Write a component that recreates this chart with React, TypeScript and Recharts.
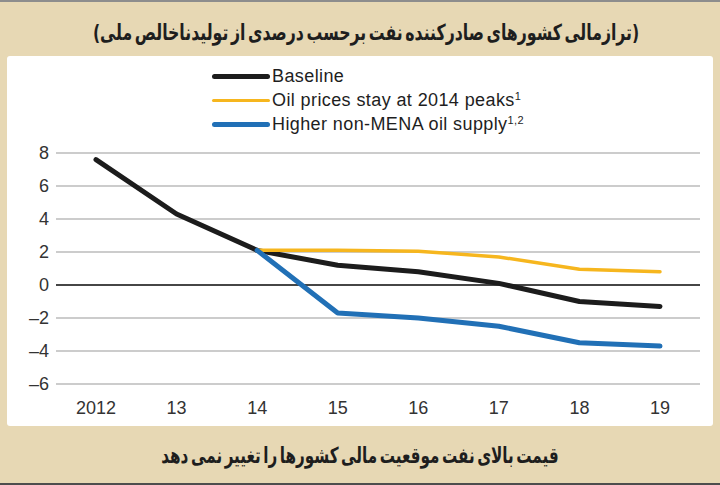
import {
  CartesianGrid,
  Legend,
  Line,
  LineChart,
  ReferenceLine,
  XAxis,
  YAxis,
} from "recharts";

const years = ["2012", "13", "14", "15", "16", "17", "18", "19"];
const baseline = [7.6, 4.3, 2.1, 1.2, 0.8, 0.1, -1.0, -1.3];
const oilPeaks = [null, null, 2.1, 2.1, 2.05, 1.7, 0.95, 0.8];
const nonMena = [null, null, 2.1, -1.7, -2.0, -2.5, -3.5, -3.7];
const yTicks = [-6, -4, -2, 0, 2, 4, 6, 8];

const title = "(ترازمالی کشورهای صادرکننده نفت برحسب درصدی از تولیدناخالص ملی)";
const caption = "قیمت بالای نفت موقعیت مالی کشورها را تغییر نمی دهد";

const legendItems = [
  { label: "Baseline", sup: "", color: "#1c1c1c", width: 5 },
  { label: "Oil prices stay at 2014 peaks", sup: "1", color: "#f6b61e", width: 3 },
  { label: "Higher non-MENA oil supply", sup: "1,2", color: "#2170b6", width: 5 },
];

const data = years.map((year, i) => ({
  year,
  baseline: baseline[i],
  oilPeaks: oilPeaks[i],
  nonMena: nonMena[i],
}));

const tan = "#e7d8b4";
const latin = "'Liberation Sans', Arial, sans-serif";
const persian = "'DejaVu Sans', sans-serif";

function ChartLegend() {
  return (
    <div style={{ fontFamily: latin, fontSize: 18, color: "#1e1e1e", letterSpacing: 0.4 }}>
      {legendItems.map((item) => (
        <div key={item.label} style={{ display: "flex", alignItems: "center", height: 24 }}>
          <span
            style={{
              display: "inline-block",
              width: 58,
              height: item.width,
              borderRadius: item.width,
              background: item.color,
              marginRight: 2,
            }}
          />
          <span>
            {item.label}
            {item.sup && <sup style={{ fontSize: 11, verticalAlign: 6 }}>{item.sup}</sup>}
          </span>
        </div>
      ))}
    </div>
  );
}

function PersianLine({
  text,
  top,
  scale,
  shift = 0,
}: {
  text: string;
  top: number;
  scale: number;
  shift?: number;
}) {
  return (
    <div style={{ position: "absolute", left: shift, width: 720, top, textAlign: "center" }}>
      <span
        style={{
          display: "inline-block",
          direction: "rtl",
          fontFamily: persian,
          fontWeight: "bold",
          fontSize: 22,
          wordSpacing: -4,
          color: "#1e1e1e",
          whiteSpace: "nowrap",
          transform: `scaleX(${scale})`,
          transformOrigin: "center",
        }}
      >
        {text}
      </span>
    </div>
  );
}

export default function App() {
  return (
    <div
      style={{
        position: "absolute",
        left: 0,
        top: 0,
        width: 720,
        height: 485,
        background: tan,
        borderTop: "2px solid #8d8d8d",
        borderBottom: "2px solid #4d4d4d",
        boxSizing: "border-box",
        overflow: "hidden",
      }}
    >
      <PersianLine text={title} top={18} scale={0.715} shift={-16} />
      <div
        style={{
          position: "absolute",
          left: 7,
          top: 54,
          width: 706,
          height: 370,
          background: "#fff",
          borderRadius: 3,
        }}
      >
        <LineChart
          width={706}
          height={370}
          data={data}
          margin={{ top: 97, right: 13, bottom: 12, left: 0 }}
        >
          <CartesianGrid vertical={false} stroke="#9a9a9a" strokeWidth={1.2} />
          <XAxis
            dataKey="year"
            axisLine={false}
            tickLine={false}
            tickSize={0}
            tickMargin={17}
            height={30}
            interval={0}
            padding={{ left: 40, right: 40 }}
            tick={{ fontFamily: latin, fontSize: 18, fill: "#333" }}
          />
          <YAxis
            domain={[-6, 8]}
            ticks={yTicks}
            axisLine={false}
            tickLine={false}
            tickSize={0}
            tickMargin={7}
            width={49}
            tickFormatter={(v: number) => (v < 0 ? `–${Math.abs(v)}` : `${v}`)}
            tick={{ fontFamily: latin, fontSize: 18, fill: "#333" }}
          />
          <ReferenceLine y={0} stroke="#1a1a1a" strokeWidth={1.3} />
          <Legend
            layout="vertical"
            align="center"
            verticalAlign="middle"
            content={() => <ChartLegend />}
            wrapperStyle={{ left: 205, top: 8, width: 400 }}
          />
          <Line
            dataKey="baseline"
            stroke="#1c1c1c"
            strokeWidth={5}
            strokeLinecap="round"
            strokeLinejoin="round"
            dot={false}
            isAnimationActive={false}
          />
          <Line
            dataKey="oilPeaks"
            stroke="#f6b61e"
            strokeWidth={3.5}
            strokeLinecap="round"
            strokeLinejoin="round"
            dot={false}
            isAnimationActive={false}
          />
          <Line
            dataKey="nonMena"
            stroke="#2170b6"
            strokeWidth={5}
            strokeLinecap="round"
            strokeLinejoin="round"
            dot={false}
            isAnimationActive={false}
          />
        </LineChart>
      </div>
      <PersianLine text={caption} top={441} scale={0.69} />
    </div>
  );
}
